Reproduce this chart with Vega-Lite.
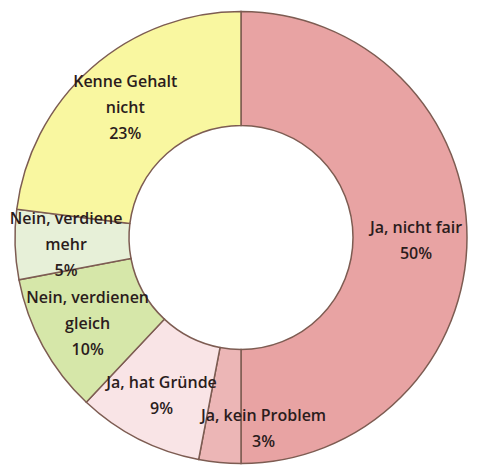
{
  "$schema": "https://vega.github.io/schema/vega-lite/v6.json",
  "width": 482,
  "height": 475,
  "autosize": {"type": "fit", "contains": "padding"},
  "padding": 0,
  "background": "white",
  "config": {"view": {"stroke": null}},
  "data": {
    "values": [
      {"order": 1, "category": "Ja, nicht fair", "label": "Ja, nicht fair\n50%", "value": 50},
      {"order": 2, "category": "Ja, kein Problem", "label": "Ja, kein Problem\n3%", "value": 3},
      {"order": 3, "category": "Ja, hat Gründe", "label": "Ja, hat Gründe\n9%", "value": 9},
      {"order": 4, "category": "Nein, verdienen gleich", "label": "Nein, verdienen\ngleich\n10%", "value": 10},
      {"order": 5, "category": "Nein, verdiene mehr", "label": "Nein, verdiene\nmehr\n5%", "value": 5},
      {"order": 6, "category": "Kenne Gehalt nicht", "label": "Kenne Gehalt\nnicht\n23%", "value": 23}
    ]
  },
  "encoding": {
    "theta": {"field": "value", "type": "quantitative", "stack": true},
    "order": {"field": "order", "type": "quantitative"}
  },
  "layer": [
    {
      "mark": {"type": "arc", "innerRadius": 112, "outerRadius": 226, "stroke": "#7d5c52", "strokeWidth": 1.5},
      "encoding": {
        "color": {
          "field": "category",
          "type": "nominal",
          "legend": null,
          "scale": {
            "domain": ["Ja, nicht fair", "Ja, kein Problem", "Ja, hat Gründe", "Nein, verdienen gleich", "Nein, verdiene mehr", "Kenne Gehalt nicht"],
            "range": ["#E8A3A3", "#ECB6B6", "#F9E4E6", "#D6E7A9", "#E7F0D8", "#F9F7A0"]
          }
        }
      }
    },
    {
      "mark": {"type": "text", "radius": 175, "dy": -10, "lineBreak": "\n", "font": "Open Sans", "fontWeight": 600, "fontSize": 16, "lineHeight": 26, "color": "#2b1c1c", "align": "center", "baseline": "middle"},
      "encoding": {
        "text": {"condition": {"test": "datum.order != 1 && datum.order != 3", "value": ""}, "field": "label", "type": "nominal"}
      }
    },
    {
      "mark": {"type": "text", "radius": 175, "dy": -24, "lineBreak": "\n", "font": "Open Sans", "fontWeight": 600, "fontSize": 16, "lineHeight": 26, "color": "#2b1c1c", "align": "center", "baseline": "middle"},
      "encoding": {
        "text": {"condition": {"test": "datum.order < 4", "value": ""}, "field": "label", "type": "nominal"}
      }
    },
    {
      "mark": {"type": "text", "radius": 175, "dx": 39, "dy": 4, "lineBreak": "\n", "font": "Open Sans", "fontWeight": 600, "fontSize": 16, "lineHeight": 26, "color": "#2b1c1c", "align": "center", "baseline": "middle"},
      "encoding": {
        "text": {"condition": {"test": "datum.order != 2", "value": ""}, "field": "label", "type": "nominal"}
      }
    }
  ]
}
